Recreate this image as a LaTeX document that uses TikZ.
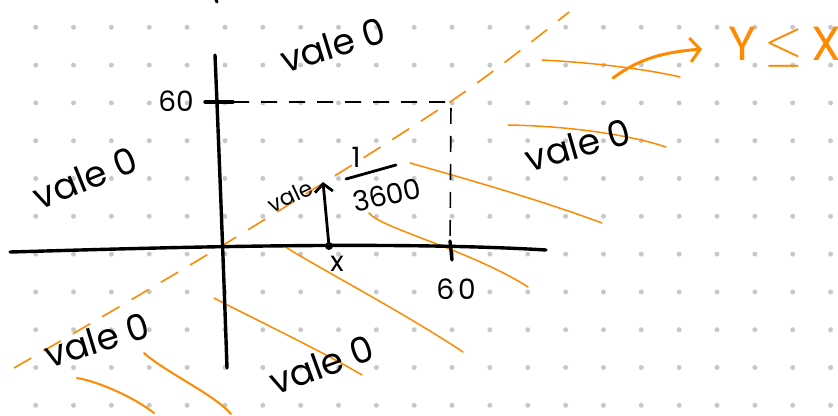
\documentclass[tikz,border=0pt]{standalone}
\usepackage{fontspec}
\setmainfont{Poppins}
\usepackage{tikz}
\usetikzlibrary{arrows.meta,calc,positioning}
\definecolor{penorange}{RGB}{255,137,0}
\definecolor{dotgray}{RGB}{200,200,200}
\tikzset{
  gridpoint/.style={fill=dotgray, draw=none},
  axisline/.style={line width=1.7pt, line cap=round, black},
  tickmark/.style={line width=1.7pt, line cap=round},
  guide/.style={black, line width=0.8pt, dash pattern=on 8pt off 6pt},
  diagonal/.style={penorange, line width=0.8pt, dash pattern=on 10pt off 7pt},
  hatch/.style={penorange, line width=0.75pt, line cap=round},
  valelabel/.style={font=\fontsize{18}{20}\selectfont, inner sep=0pt},
  ticklabel/.style={font=\fontsize{14}{16}\selectfont, inner sep=0pt},
  smalllabel/.style={font=\fontsize{11}{13}\selectfont, inner sep=0pt},
  densityarrow/.style={line width=1.4pt, line cap=round,
    -{Straight Barb[length=4pt,width=9pt]}},
  notearrow/.style={penorange, line width=1.5pt, line cap=round,
    -{Straight Barb[length=5pt,width=12pt]}},
  notelabel/.style={penorange, font=\fontsize{24}{26}\selectfont, inner sep=0pt}
}

\begin{document}
\begin{tikzpicture}[x=0.5pt, y=-0.5pt]
  \useasboundingbox (0,0) rectangle (838,416);

  % ==== DOT PAPER ====
  \foreach \i in {0,...,21}
    \foreach \j in {0,...,10}
      \fill[gridpoint] ({35.7+37.85*\i},{27.3+37.8*\j}) circle[radius=1.25pt];

  % ==== ORANGE: diagonal and hatching ====
  \draw[diagonal] plot[smooth] coordinates {(14,368) (220,247) (450,102) (569,12)};
  \draw[hatch] (542,60) .. controls (600,63) and (650,70) .. (680,77);
  \draw[hatch] (508,125) .. controls (570,126) and (630,135) .. (666,147);
  \draw[hatch] (410,163) .. controls (470,180) and (540,200) .. (602,223);
  \draw[hatch] (369,213) .. controls (380,228) and (470,250) .. (528,287);
  \draw[hatch] (283,245) .. controls (300,258) and (400,310) .. (463,352);
  \draw[hatch] (214,298) .. controls (240,312) and (320,350) .. (362,375);
  \draw[hatch, line width=1pt] (144,353) .. controls (165,372) and (215,395) .. (231,414);
  \draw[hatch, line width=1pt] (77,378) .. controls (100,382) and (135,398) .. (154,413);

  \node[notelabel, anchor=west] (ylex) at (728,47) {Y\,$\leq$\,X};
  \coordinate (notestart) at (613,78);
  \draw[notearrow, shorten >=13pt] (notestart) .. controls (640,58) and (665,52) .. (ylex.west);

  % ==== AXES ====
  \coordinate (ytop) at (215,55);
  \coordinate (ybot) at (227,368);
  \coordinate (xleft) at (10,252);
  \coordinate (xright) at (546,250);
  \draw[axisline] (ytop) .. controls (219,150) and (224,280) .. (ybot);
  \draw[axisline] (xleft) .. controls (120,249) and (380,240) .. (xright);
  \draw[line width=1.5pt, line cap=round] (216,0) -- (217,2);

  % ==== 60 marks and guides ====
  \coordinate (ysixtytick) at (233,102);
  \coordinate (corner) at (451,102);
  \coordinate (xsixtytick) at (450,250);
  \draw[tickmark] (205,102) -- (ysixtytick);
  \draw[tickmark] (450,241) -- (452,260);
  \draw[guide] (ysixtytick) -- (corner) -- (xsixtytick);
  \node[ticklabel] (ysixty) at (176,101) {60};
  \node[ticklabel] (xsixty) at (456,289) {6\hspace{2pt}0};

  % ==== density at x ====
  \coordinate (xpt) at (329,246);
  \coordinate (vtip) at (323,182);
  \fill (xpt) circle[radius=2pt];
  \draw[densityarrow] (xpt) -- (vtip);
  \node[ticklabel] (xlab) at (337,264) {x};
  \node[smalllabel, rotate=25] (arrowlab) at (290,196) {vale};
  \node[ticklabel] (one) at (356,157) {1};
  \draw[line width=1.4pt, line cap=round] (346,179) -- (396,165);
  \node[ticklabel, rotate=12] (den) at (387,195) {3600};

  % ==== VALUE LABELS ====
  \node[valelabel, rotate=17] (valetop)   at (333,45)  {vale 0};
  \node[valelabel, rotate=22] (valeleft)  at (85,178)  {vale 0};
  \node[valelabel, rotate=16] (valeright) at (578,145) {vale 0};
  \node[valelabel, rotate=17] (valebl)    at (97,340)  {vale 0};
  \node[valelabel, rotate=20] (valebot)   at (322,365) {vale 0};
\end{tikzpicture}
\end{document}
